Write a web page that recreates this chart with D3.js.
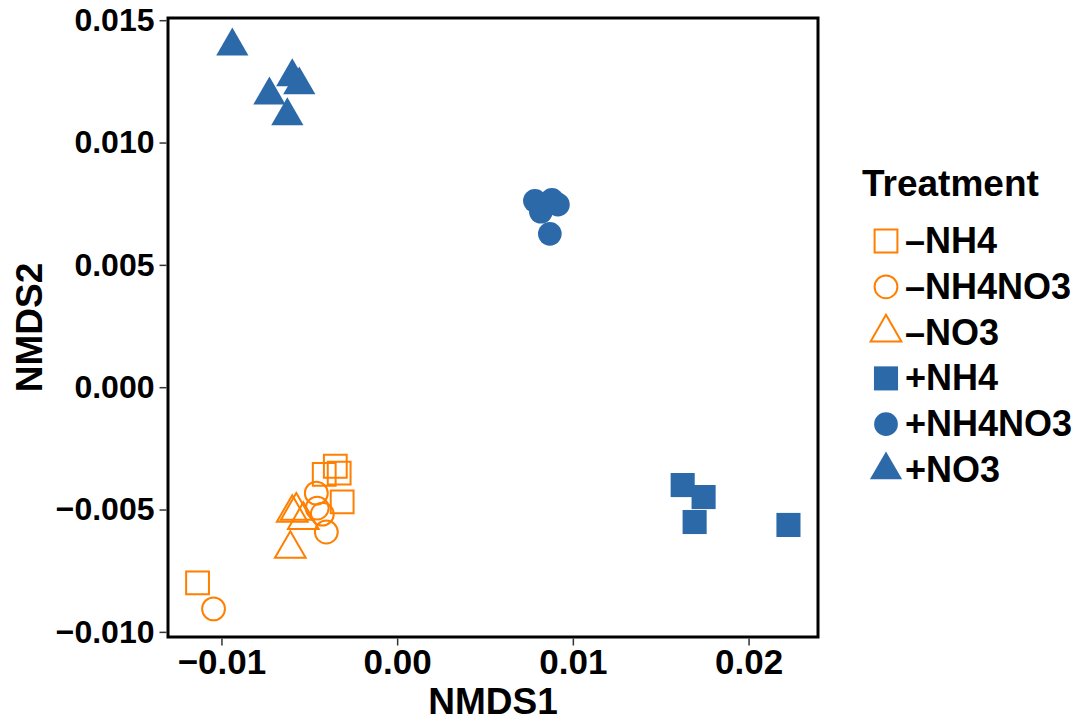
<!DOCTYPE html>
<html>
<head>
<meta charset="utf-8">
<script src="https://cdn.jsdelivr.net/npm/d3@7"></script>
<style>
  body { margin: 0; background: #fff; }
  text { font-family: "Liberation Sans", Arial, Helvetica, sans-serif; font-weight: bold; }
</style>
</head>
<body>
<svg id="chart"></svg>
<script>
const treatments = ["–NH4", "–NH4NO3", "–NO3", "+NH4", "+NH4NO3", "+NO3"];
const shapes = ["square", "circle", "triangle", "square", "circle", "triangle"];
const filled = [false, false, false, true, true, true];
const colors = ["#ff7f00", "#ff7f00", "#ff7f00", "#2c69a9", "#2c69a9", "#2c69a9"];

// NMDS scores per treatment
const negNH4 = [[-0.00352, -0.00323], [-0.00415, -0.00356], [-0.00330, -0.00351], [-0.00313, -0.00469], [-0.01136, -0.00800]];
const negNH4NO3 = [[-0.00460, -0.00433], [-0.00455, -0.00494], [-0.00426, -0.00519], [-0.00403, -0.00592], [-0.01045, -0.00906]];
const negNO3 = [[-0.00574, -0.00505], [-0.00597, -0.00514], [-0.00534, -0.00543], [-0.00608, -0.00661]];
const posNH4 = [[0.01625, -0.00400], [0.01744, -0.00449], [0.01693, -0.00551], [0.02227, -0.00563]];
const posNH4NO3 = [[0.00784, 0.00762], [0.00818, 0.00717], [0.00881, 0.00766], [0.00915, 0.00746], [0.00869, 0.00627]];
const posNO3 = [[-0.00938, 0.01394], [-0.00727, 0.01194], [-0.00597, 0.01268], [-0.00557, 0.01235], [-0.00625, 0.01109]];

const xTicks = [-0.01, 0.00, 0.01, 0.02];
const yTicks = [-0.010, -0.005, 0.000, 0.005, 0.010, 0.015];

const groups = [negNH4, negNH4NO3, negNO3, posNH4, posNH4NO3, posNO3];
const points = [];
groups.forEach((g, i) => g.forEach(p => points.push({x: p[0], y: p[1], t: i})));

const width = 1081, height = 721;
const panel = {left: 168, right: 818, top: 18, bottom: 637};

const svg = d3.select("#chart").attr("width", width).attr("height", height);

function expand(ext) {
    const pad = (ext[1] - ext[0]) * 0.05;
    return [ext[0] - pad, ext[1] + pad];
}

const xScale = d3.scaleLinear()
    .domain(expand(d3.extent(points, d => d.x)))
    .range([panel.left, panel.right]);
const yScale = d3.scaleLinear()
    .domain(expand(d3.extent(points, d => d.y)))
    .range([panel.bottom, panel.top]);

const symTypes = {square: d3.symbolSquare, circle: d3.symbolCircle, triangle: d3.symbolTriangle};
const symSizes = {square: 580, circle: 440, triangle: 450};
const hollowSizes = {square: 520, circle: 410, triangle: 410};

function symbolPath(i) {
    const s = shapes[i];
    return d3.symbol().type(symTypes[s]).size(filled[i] ? symSizes[s] : hollowSizes[s])();
}

// points
svg.append("g")
    .selectAll("path")
    .data(points)
    .join("path")
    .attr("transform", d => `translate(${xScale(d.x)},${yScale(d.y)})`)
    .attr("d", d => symbolPath(d.t))
    .attr("fill", d => filled[d.t] ? colors[d.t] : "none")
    .attr("stroke", d => filled[d.t] ? "none" : colors[d.t])
    .attr("stroke-width", 2);

// panel border
svg.append("rect")
    .attr("x", panel.left)
    .attr("y", panel.top)
    .attr("width", panel.right - panel.left)
    .attr("height", panel.bottom - panel.top)
    .attr("fill", "none")
    .attr("stroke", "#000")
    .attr("stroke-width", 3);

const fmtX = v => (v < 0 ? "−" : "") + d3.format(".2f")(Math.abs(v));
const fmtY = v => (v < 0 ? "−" : "") + d3.format(".3f")(Math.abs(v));

const xAxis = svg.append("g")
    .attr("transform", `translate(0, ${panel.bottom + 1.5})`)
    .call(d3.axisBottom(xScale).tickValues(xTicks).tickFormat(fmtX).tickSize(7).tickPadding(4));
const yAxis = svg.append("g")
    .attr("transform", `translate(${panel.left - 1.5}, 0)`)
    .call(d3.axisLeft(yScale).tickValues(yTicks).tickFormat(fmtY).tickSize(7).tickPadding(5));

[xAxis, yAxis].forEach(a => {
    a.select(".domain").remove();
    a.selectAll(".tick line").attr("stroke", "#333").attr("stroke-width", 1.5);
    a.selectAll(".tick text").attr("fill", "#000")
        .attr("font-family", "Liberation Sans, Arial, sans-serif").attr("font-weight", "bold");
});
xAxis.selectAll(".tick text").attr("font-size", 35);
yAxis.selectAll(".tick text").attr("font-size", 32);

svg.append("text")
    .attr("x", (panel.left + panel.right) / 2)
    .attr("y", 714)
    .attr("text-anchor", "middle")
    .attr("font-size", 37)
    .text("NMDS1");

svg.append("text")
    .attr("transform", `translate(42, ${(panel.top + panel.bottom) / 2}) rotate(-90)`)
    .attr("text-anchor", "middle")
    .attr("font-size", 37)
    .text("NMDS2");

// legend
const legend = svg.append("g").attr("transform", "translate(862, 0)");
legend.append("text")
    .attr("x", 0)
    .attr("y", 196)
    .attr("font-size", 37)
    .text("Treatment");

const rows = legend.selectAll("g.row")
    .data(treatments)
    .join("g")
    .attr("class", "row")
    .attr("transform", (d, i) => `translate(0, ${241 + i * 45.8})`);

rows.append("path")
    .attr("transform", "translate(24, 0)")
    .attr("d", (d, i) => symbolPath(i))
    .attr("fill", (d, i) => filled[i] ? colors[i] : "none")
    .attr("stroke", (d, i) => filled[i] ? "none" : colors[i])
    .attr("stroke-width", 2);

rows.append("text")
    .attr("x", 43)
    .attr("y", 12)
    .attr("font-size", 36)
    .text(d => d);
</script>
</body>
</html>
